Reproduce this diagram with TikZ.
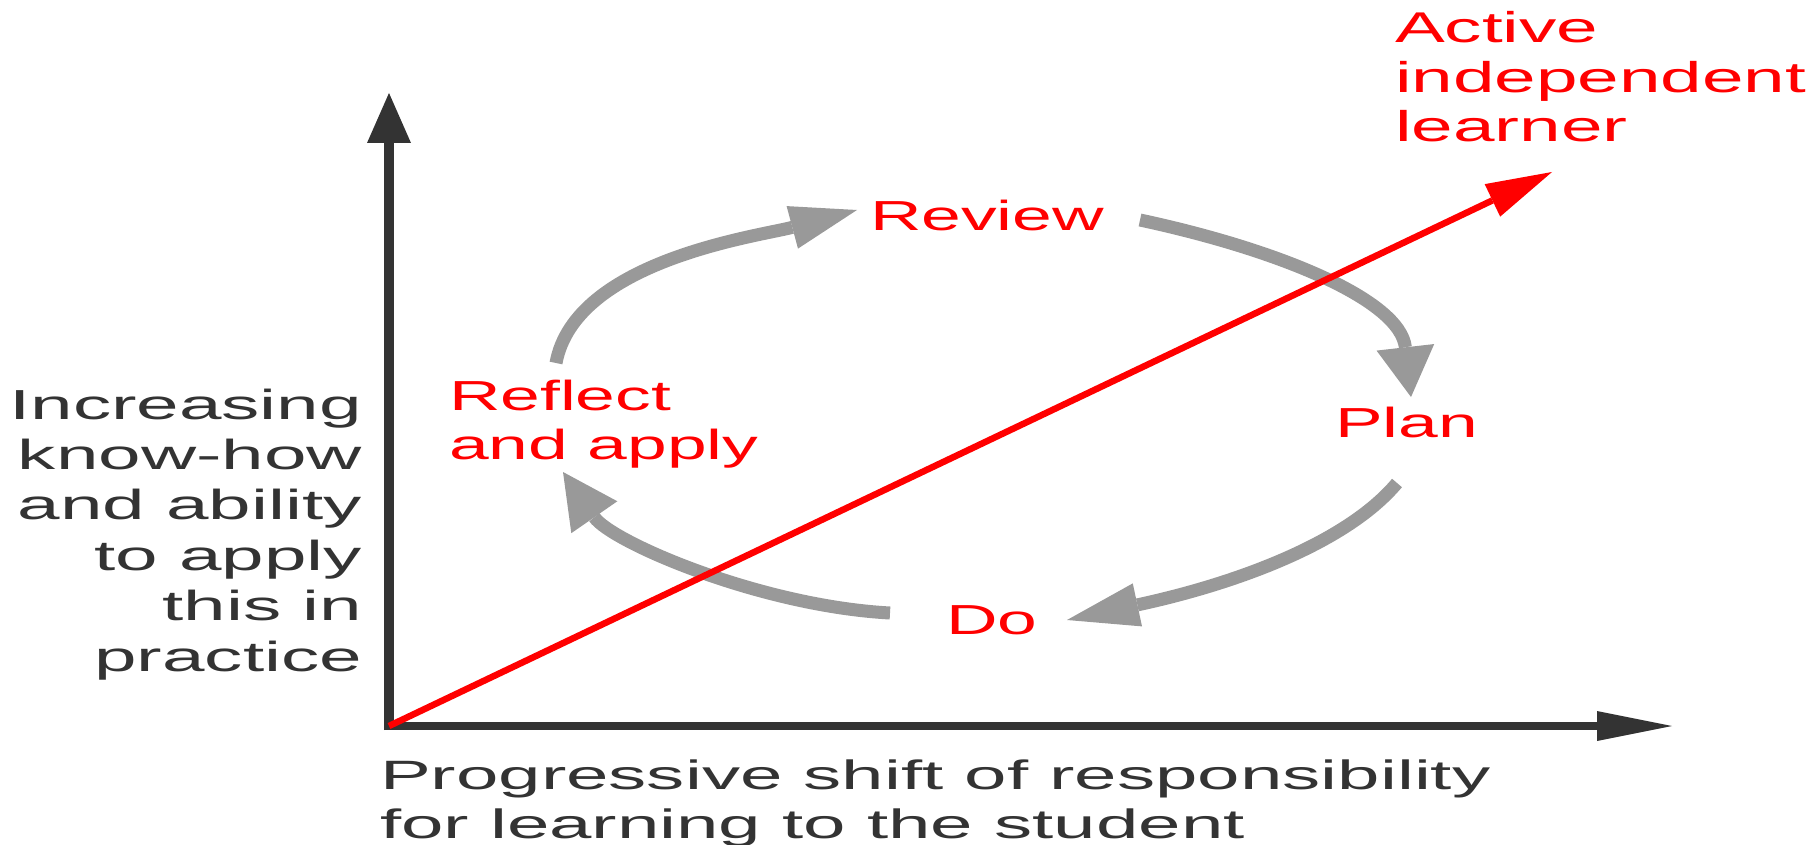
\documentclass[tikz,border=0pt]{standalone}
\usepackage{fontspec}
\setmainfont{Liberation Sans}
\usepackage{graphicx}
\usetikzlibrary{arrows.meta}
\definecolor{axisdark}{HTML}{333333}
\definecolor{cyclegray}{HTML}{999999}
\definecolor{pathred}{HTML}{FF0000}
\newcommand{\wideText}[2]{\scalebox{#1}[1]{#2}}
\begin{document}
\begin{tikzpicture}[x=1pt,y=-1pt,
  lbl/.style={inner sep=0pt, outer sep=0pt},
  redlbl/.style={lbl, text=pathred, font=\fontsize{42}{49.5}\selectfont},
  darklbl/.style={lbl, text=axisdark},
  cyclearrow/.style={draw=cyclegray, line width=13pt},
]
\useasboundingbox (0,0) rectangle (1820,845);

% axes
\coordinate (O) at (389,726);
\coordinate (ybot) at (389,730);
\coordinate (ytip) at (389,93);
\coordinate (xleft) at (384,726);
\coordinate (xtip) at (1672,726);
\draw[axisdark, line width=10pt, -{Triangle[length=50pt,width=44pt,line width=0pt]}] (ybot) -- (ytip);
\draw[axisdark, line width=8pt, -{Triangle[length=75pt,width=30pt,line width=0pt]}] (xleft) -- (xtip);

% cycle arrows
\coordinate (a1s) at (556,363);  \coordinate (a1e) at (857,210);
\coordinate (a2s) at (1140,220); \coordinate (a2e) at (1411,397);
\coordinate (a3s) at (1397,483); \coordinate (a3e) at (1067,620);
\coordinate (a4s) at (890,613);  \coordinate (a4e) at (563,472);
\draw[cyclearrow, -{Triangle[length=67pt,width=44pt,line width=0pt]}]
  (a1s) .. controls (575,260) and (760,236) .. (a1e);
\draw[cyclearrow, -{Triangle[length=50pt,width=58pt,line width=0pt]}]
  (a2s) .. controls (1280,250) and (1400,300) .. (a2e);
\draw[cyclearrow, -{Triangle[length=72pt,width=44pt,line width=0pt]}]
  (a3s) .. controls (1345,545) and (1230,585) .. (a3e);
\draw[cyclearrow, -{Triangle[length=55pt,width=56pt,line width=0pt]}]
  (a4s) .. controls (760,606) and (611.5,542) .. (a4e);

% red progression line
\coordinate (redtip) at (1552,172);
\draw[pathred, line width=6.5pt, -{Triangle[length=66pt,width=36pt,line width=0pt]}] (O) -- (redtip);

% labels
\node[darklbl, anchor=base east, font=\fontsize{42}{50.4}\selectfont] (ylabel) at (362,419)
  {\wideText{1.82}{\begin{tabular}[t]{@{}r@{}}Increasing\\know-how\\and ability\\to apply\\this in\\practice\end{tabular}}};
\node[darklbl, anchor=base west, font=\fontsize{41}{49}\selectfont] (xlabel) at (380,789)
  {\wideText{1.86}{\begin{tabular}[t]{@{}l@{}}Progressive shift of responsibility\\for learning to the student\end{tabular}}};
\node[redlbl, anchor=base west, font=\fontsize{43}{49.5}\selectfont] (active) at (1395,43)
  {\wideText{1.737}{\begin{tabular}[t]{@{}l@{}}Active\\independent\\learner\end{tabular}}};
\node[redlbl, anchor=base west] (review) at (870,230) {\wideText{1.7}{Review}};
\node[redlbl, anchor=base west] (plan) at (1335,437) {\wideText{1.7}{Plan}};
\node[redlbl, anchor=base west] (do) at (946,634) {\wideText{1.7}{Do}};
\node[redlbl, anchor=base west, font=\fontsize{42}{49}\selectfont] (reflect) at (449,410)
  {\wideText{1.7}{\begin{tabular}[t]{@{}l@{}}Reflect\\and apply\end{tabular}}};
\end{tikzpicture}
\end{document}
